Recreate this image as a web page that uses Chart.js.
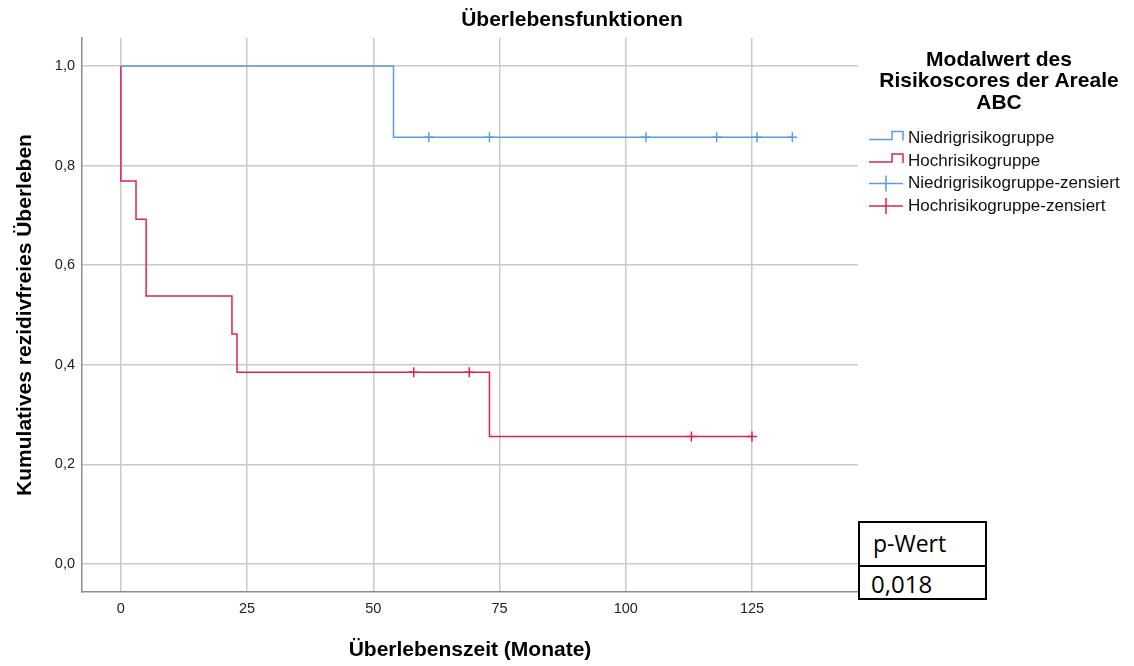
<!DOCTYPE html>
<html lang="de">
<head>
  <meta charset="UTF-8" />
  <title>Überlebensfunktionen</title>
  <script src="https://cdn.jsdelivr.net/npm/chart.js"></script>
  <style>
    html, body { margin: 0; padding: 0; background: #fff; }
    #wrap { position: relative; width: 1134px; height: 666px; }
    #pbox {
      position: absolute; left: 858px; top: 521px; width: 125px;
      border: 2px solid #000; background: #fff;
      font-family: "Open Sans", "Noto Sans", sans-serif; color: #000;
    }
    #pbox div { padding-left: 13px; }
    #pbox .head { height: 42px; line-height: 40px; font-size: 23px; border-bottom: 2px solid #000; }
    #pbox .val { height: 31px; line-height: 33px; font-size: 24px; padding-left: 11px; }
  </style>
</head>
<body>
  <div id="wrap">
    <canvas id="km"></canvas>
    <div id="pbox">
      <div class="head">p-Wert</div>
      <div class="val">0,018</div>
    </div>
  </div>

  <script>
    // Kaplan-Meier steps (time in months, cumulative survival)
    const lowTimes = [0, 54, 133];
    const lowSurv = [1.0, 0.857, 0.857];
    const highTimes = [0, 0, 3, 5, 22, 23, 73, 125];
    const highSurv = [1.0, 0.769, 0.692, 0.538, 0.462, 0.385, 0.256, 0.256];

    // censored observations
    const lowCensTimes = [61, 73, 104, 118, 126, 133];
    const lowCensSurv = [0.857, 0.857, 0.857, 0.857, 0.857, 0.857];
    const highCensTimes = [58, 69, 113, 125];
    const highCensSurv = [0.385, 0.385, 0.256, 0.256];

    const xTicks = [0, 25, 50, 75, 100, 125];
    const yTicks = [0, 0.2, 0.4, 0.6, 0.8, 1.0];

    const chartTitle = 'Überlebensfunktionen';
    const legendTitle = ['Modalwert des', 'Risikoscores der Areale', 'ABC'];

    const blue = '#5b9be4';
    const red = '#dc2452';
    const FONT = '"Liberation Sans", Arial, sans-serif';

    const toPts = (xs, ys) => xs.map((x, i) => ({ x: x, y: ys[i] }));
    const deComma = v => v.toFixed(1).replace('.', ',');

    // title over the whole figure + legend at the right, like the SPSS output
    const sideLegend = {
      id: 'sideLegend',
      afterDraw(chart) {
        const ctx = chart.ctx;
        ctx.save();
        ctx.fillStyle = '#000';
        ctx.textAlign = 'center';
        ctx.textBaseline = 'middle';
        ctx.font = 'bold 21px ' + FONT;
        ctx.fillText(chartTitle, 572, 20);
        legendTitle.forEach((t, i) => ctx.fillText(t, 999, 60 + i * 21.5));

        ctx.textAlign = 'left';
        ctx.font = '17px ' + FONT;
        chart.data.datasets.forEach((ds, i) => {
          const y = 138.5 + i * 22.5;
          ctx.strokeStyle = ds.borderColor;
          ctx.lineWidth = 1.5;
          ctx.beginPath();
          if (ds.showLine) {
            ctx.moveTo(869, y + 1);
            ctx.lineTo(892, y + 1);
            ctx.lineTo(892, y - 7);
            ctx.lineTo(903, y - 7);
            ctx.lineTo(903, y + 2);
          } else {
            ctx.moveTo(869, y);
            ctx.lineTo(903, y);
            ctx.moveTo(886, y - 8);
            ctx.lineTo(886, y + 8);
          }
          ctx.stroke();
          ctx.fillStyle = '#111';
          ctx.fillText(ds.label, 908, y);
        });
        ctx.restore();
      }
    };

    const ctx = document.getElementById('km').getContext('2d');
    const chart = new Chart(ctx, {
      type: 'scatter',
      data: {
        datasets: [
          {
            label: 'Niedrigrisikogruppe',
            data: toPts(lowTimes, lowSurv),
            showLine: true, stepped: 'before',
            borderColor: blue, borderWidth: 1.5, pointRadius: 0
          },
          {
            label: 'Hochrisikogruppe',
            data: toPts(highTimes, highSurv),
            showLine: true, stepped: 'before',
            borderColor: red, borderWidth: 1.5, pointRadius: 0
          },
          {
            label: 'Niedrigrisikogruppe-zensiert',
            data: toPts(lowCensTimes, lowCensSurv),
            showLine: false, pointStyle: 'cross', pointRadius: 5,
            borderColor: blue, borderWidth: 1.5
          },
          {
            label: 'Hochrisikogruppe-zensiert',
            data: toPts(highCensTimes, highCensSurv),
            showLine: false, pointStyle: 'cross', pointRadius: 5,
            borderColor: red, borderWidth: 1.5
          }
        ]
      },
      options: {
        responsive: true,
        maintainAspectRatio: false,
        animation: false,
        layout: { padding: { left: 0, top: 38, right: 276, bottom: 0 } },
        plugins: {
          legend: { display: false },
          tooltip: { enabled: false },
          title: { display: false }
        },
        scales: {
          x: {
            type: 'linear',
            min: -7.7,
            max: 146,
            afterBuildTicks: s => { s.ticks = xTicks.map(v => ({ value: v })); },
            afterFit: s => { s.height = 74; },
            grid: { color: '#c9c9c9', lineWidth: 1.5, drawTicks: false },
            border: { color: '#8c8c8c', width: 1.5 },
            ticks: {
              padding: 8,
              color: '#222',
              font: { family: FONT, size: 14.5 }
            },
            title: {
              display: true,
              text: 'Überlebenszeit (Monate)',
              color: '#000',
              font: { family: FONT, size: 21, weight: 'bold' },
              padding: { top: 0, bottom: 3.5 }
            }
          },
          y: {
            type: 'linear',
            min: -0.056,
            max: 1.056,
            afterBuildTicks: s => { s.ticks = yTicks.map(v => ({ value: v })); },
            afterFit: s => { s.width = 82; },
            grid: { color: '#c9c9c9', lineWidth: 1.5, drawTicks: false },
            border: { color: '#8c8c8c', width: 1.5 },
            ticks: {
              padding: 7,
              color: '#222',
              font: { family: FONT, size: 14.5 },
              callback: v => deComma(v)
            },
            title: {
              display: true,
              text: 'Kumulatives rezidivfreies Überleben',
              color: '#000',
              font: { family: FONT, size: 21, weight: 'bold' },
              padding: { top: 12.5, bottom: 0 }
            }
          }
        }
      },
      plugins: [sideLegend]
    });
  </script>
</body>
</html>
